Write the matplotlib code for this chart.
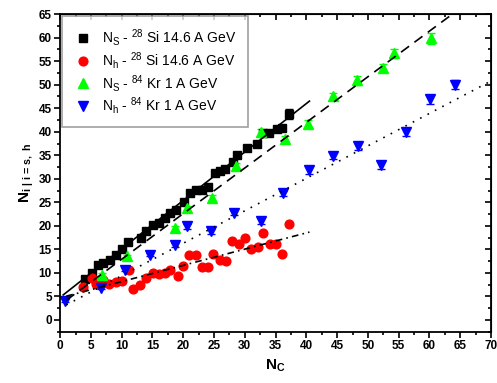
import matplotlib.pyplot as plt
import numpy as np

plt.rcParams['font.family'] = ['Liberation Sans', 'DejaVu Sans']
plt.rcParams['mathtext.fontset'] = 'custom'
plt.rcParams['mathtext.rm'] = 'Liberation Sans'
plt.rcParams['mathtext.it'] = 'Liberation Sans:italic'
plt.rcParams['mathtext.bf'] = 'Liberation Sans:bold'

# Ns - 28Si 14.6 A GeV
si_s_x = [4.0, 5.1, 6.1, 7.0, 8.1, 9.0, 10.1, 11.1, 13.1, 14.0, 15.1, 16.0, 17.0, 17.9,
          18.9, 20.1, 21.1, 22.0, 23.0, 24.0, 25.1, 26.0, 26.8, 28.1, 28.8, 30.3, 32.0,
          33.0, 34.0, 35.2, 36.0, 37.1]
si_s_y = [8.6, 10.0, 11.7, 12.0, 12.7, 13.8, 15.1, 16.5, 17.5, 18.9, 20.1, 20.7, 21.7, 22.7,
          23.4, 25.1, 26.9, 27.7, 27.6, 28.3, 31.3, 31.7, 32.0, 33.6, 35.0, 36.6, 37.5,
          39.7, 39.8, 40.5, 40.9, 43.8]
si_s_err = [0.3] * 31 + [1.0]

# Nh - 28Si 14.6 A GeV
si_h_x = [3.7, 5.1, 5.9, 7.0, 7.9, 9.0, 10.0, 11.2, 11.9, 12.9, 14.0, 15.1, 16.1, 17.0,
          17.9, 19.1, 20.0, 21.0, 22.0, 23.0, 24.0, 24.9, 25.9, 26.9, 28.0, 29.1, 30.0,
          31.0, 32.1, 33.0, 34.1, 35.1, 36.0, 37.1]
si_h_y = [7.0, 9.0, 7.7, 8.5, 7.7, 8.0, 8.2, 10.7, 6.6, 7.5, 9.0, 9.9, 9.8, 9.9,
          10.7, 9.4, 11.4, 13.7, 13.9, 11.2, 11.2, 14.1, 12.8, 12.5, 16.8, 16.2, 17.5,
          15.1, 15.6, 18.5, 16.2, 16.2, 14.1, 20.3]

# Ns - 84Kr 1 A GeV
kr_s_x = [6.8, 10.8, 18.6, 20.6, 24.7, 28.5, 32.6, 36.6, 40.3, 44.3, 48.3, 52.4, 54.2, 60.2]
kr_s_y = [9.6, 13.5, 19.5, 23.7, 25.9, 32.8, 39.9, 38.4, 41.6, 47.5, 50.9, 53.5, 56.7, 59.9]
kr_s_err = [0.4, 0.4, 0.5, 0.5, 0.6, 0.6, 0.7, 0.7, 0.8, 0.8, 0.9, 0.9, 1.0, 1.2]

# Nh - 84Kr 1 A GeV
kr_h_x = [0.8, 6.7, 10.6, 14.6, 18.6, 20.6, 24.5, 28.3, 32.6, 36.2, 40.5, 44.3, 48.4,
          52.2, 56.2, 60.1, 64.1]
kr_h_y = [4.1, 6.8, 10.7, 13.9, 16.0, 19.9, 18.8, 22.8, 21.0, 26.9, 31.8, 34.9, 37.0,
          32.9, 40.0, 46.9, 50.0]
kr_h_err = [0.3, 0.3, 0.4, 0.4, 0.4, 0.5, 0.5, 0.6, 0.6, 0.6, 0.7, 0.7, 0.8, 0.8,
            0.9, 1.0, 1.0]

# Linear fits: (intercept, slope, x start, x end)
fit_si_s = (4.8, 1.03, 0.5, 40.5)
fit_si_h = (4.7, 0.345, 1.0, 40.5)
fit_kr_s = (3.2, 0.97, 1.0, 63.7)
fit_kr_h = (2.5, 0.69, 1.0, 70.0)

fig = plt.figure(figsize=(4.97, 3.83), dpi=100)
ax = fig.add_axes([0.121, 0.134, 0.867, 0.829])

ms = 5.8
ax.errorbar(si_s_x, si_s_y, yerr=si_s_err, fmt='none', ecolor='black', capsize=3, elinewidth=1)
ax.errorbar(kr_s_x, kr_s_y, yerr=kr_s_err, fmt='none', ecolor='#00ff00', capsize=3, elinewidth=1)
ax.errorbar(kr_h_x, kr_h_y, yerr=kr_h_err, fmt='none', ecolor='blue', capsize=3, elinewidth=1)

ax.plot(si_s_x, si_s_y, 's', color='black', ms=ms,
        label=r'N$_\mathregular{S}$ - $^{28}$ Si 14.6 A GeV')
ax.plot(si_h_x, si_h_y, 'o', color='red', ms=ms + 0.5,
        label=r'N$_\mathregular{h}$ - $^{28}$ Si 14.6 A GeV')
ax.plot(kr_s_x, kr_s_y, '^', color='#00ff00', ms=ms + 1,
        label=r'N$_\mathregular{S}$ - $^{84}$ Kr 1 A GeV')
ax.plot(kr_h_x, kr_h_y, 'v', color='blue', ms=ms + 1,
        label=r'N$_\mathregular{h}$ - $^{84}$ Kr 1 A GeV')

# Fit lines
for fit, ls in [(fit_si_s, '-'), (fit_kr_s, (0, (6, 4))), (fit_kr_h, (0, (1, 4))),
                (fit_si_h, (0, (4, 2.5, 1, 2.5)))]:
    b, m, x0, x1 = fit
    xx = np.linspace(x0, x1, 50)
    ax.plot(xx, b + m * xx, color='black', lw=1.2, linestyle=ls)

ax.set_xlim(0, 70)
ax.set_ylim(-2.5, 65)
ax.set_xticks(np.arange(0, 71, 5))
ax.set_yticks(np.arange(0, 66, 5))
ax.set_xticks(np.arange(0, 71, 2.5), minor=True)
ax.set_yticks(np.arange(-2.5, 66, 2.5), minor=True)
ax.tick_params(which='both', direction='out', width=1.2)
ax.tick_params(which='major', length=4, labelsize=8.5, pad=2)
ax.tick_params(which='minor', length=2.5)
for lab in ax.get_xticklabels() + ax.get_yticklabels():
    lab.set_fontweight('bold')

# inward ticks on top and right
top = ax.secondary_xaxis('top')
top.set_xticks(np.arange(0, 71, 5))
top.set_xticks(np.arange(0, 71, 2.5), minor=True)
top.tick_params(which='both', direction='in', labeltop=False, width=1.2)
top.tick_params(which='major', length=4)
top.tick_params(which='minor', length=2.5)
right = ax.secondary_yaxis('right')
right.set_yticks(np.arange(0, 66, 5))
right.set_yticks(np.arange(-2.5, 66, 2.5), minor=True)
right.tick_params(which='both', direction='in', labelright=False, width=1.2)
right.tick_params(which='major', length=4)
right.tick_params(which='minor', length=2.5)

for sp in ax.spines.values():
    sp.set_linewidth(1.3)

ax.set_xlabel(r'$\mathbf{N_C}$', fontsize=11, labelpad=4)
ax.set_ylabel(r'$\mathbf{N_{i\ |\ i\,=\,s,\ h}}$', fontsize=11, labelpad=2)

leg = ax.legend(loc='upper left', fontsize=10, frameon=True, fancybox=False,
                edgecolor='#888888', borderpad=0.8, labelspacing=0.12,
                handletextpad=0.7, handlelength=1.4, borderaxespad=0.15)
leg.get_frame().set_linewidth(1.2)

fig.savefig('out.png', dpi=100)
